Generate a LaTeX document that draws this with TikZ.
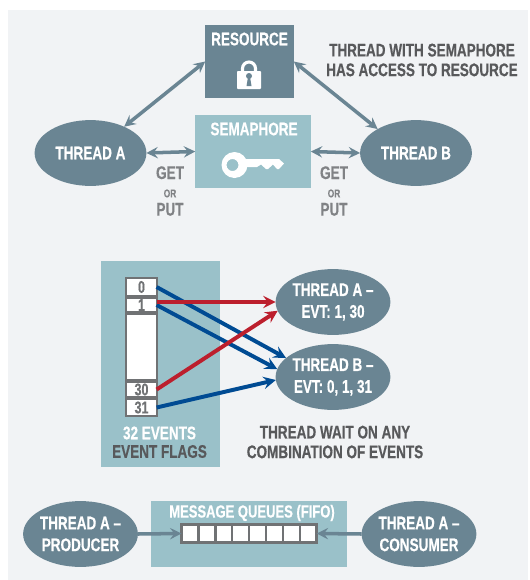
\documentclass[tikz,border=0pt]{standalone}
\usepackage{fontspec}
\setmainfont[FakeStretch=0.74,BoldFeatures={FakeBold=0.5}]{Liberation Sans}
\usetikzlibrary{shapes.geometric}
\definecolor{panelgray}{HTML}{F1F3F5}
\definecolor{threadslate}{HTML}{6A8593}
\definecolor{flagteal}{HTML}{9AC1C9}
\definecolor{labelgray}{HTML}{58595B}
\definecolor{getgray}{HTML}{808285}
\definecolor{cellgray}{HTML}{707274}
\definecolor{flagblue}{HTML}{004B93}
\definecolor{flagred}{HTML}{BC1F2D}
\tikzset{
	>=stealth,
	thread/.style={ellipse,fill=threadslate,text=white,font=\bfseries\fontsize{13}{15.5}\selectfont,align=center,inner sep=0pt,outer sep=0pt,minimum width=79.5pt,minimum height=46.8pt},
	tealbox/.style={fill=flagteal,inner sep=0pt,outer sep=0pt},
	boxtext/.style={text=white,font=\bfseries\fontsize{13}{14}\selectfont,align=center},
	note/.style={text=labelgray,font=\bfseries\fontsize{13}{14}\selectfont,align=center},
	getput/.style={text=getgray,font=\bfseries\fontsize{13}{15}\selectfont,align=center},
	flagcell/.style={draw=cellgray,line width=1.5pt,fill=white,text=cellgray,font=\bfseries\fontsize{12}{14}\selectfont,inner sep=0pt,outer sep=0pt,minimum width=21.5pt},
	queuecell/.style={draw=cellgray,line width=1.7pt,fill=white,inner sep=0pt,outer sep=0pt,minimum width=12pt,minimum height=13pt},
	slatearrow/.style={draw=threadslate,line width=2.5pt},
	bluearrow/.style={draw=flagblue,line width=2.8pt,->},
	redarrow/.style={draw=flagred,line width=2.8pt,->}
}
\begin{document}
\begin{tikzpicture}[x=0.025cm,y=-0.025cm]
	\useasboundingbox (0,0) rectangle (529,580);
	\fill[panelgray] (8,10) rectangle (528,580);
	\node[fill=threadslate,inner sep=0pt,outer sep=0pt,minimum width=63pt,minimum height=51.7pt] (resource) at (249.5,61.5) {};
	\node[tealbox,minimum width=82.2pt,minimum height=51.7pt] (semaphore) at (253,151.5) {};
	\node[thread] (threadA) at (90.5,153) {THREAD A};
	\node[thread] (threadB) at (416,153) {THREAD B};
	\node[boxtext] (resourcetext) at (249.5,39) {RESOURCE};
	\node[boxtext] (semaphoretext) at (254,129) {SEMAPHORE};
	\node[note] (accesstext) at (422,60) {THREAD WITH SEMAPHORE\\HAS ACCESS TO RESOURCE};
	\node[getput] (getA) at (170,191) {GET\\[-2pt]{\fontsize{8}{9}\selectfont OR}\\[-2pt]PUT};
	\node[getput] (getB) at (334,191) {GET\\[-2pt]{\fontsize{8}{9}\selectfont OR}\\[-2pt]PUT};
	\draw[slatearrow,<->] (threadA.38) -- (resource.west);
	\draw[slatearrow,<->] (threadB.148) -- (resource.east);
	\draw[slatearrow,<->] (threadA.east) -- (semaphore.west);
	\draw[slatearrow,<->] (threadB.west) -- (semaphore.east);
	\fill[white,rounded corners=0.6pt] (237,71) rectangle (261,89);
	\draw[white,line width=2.2pt] (242.5,72) -- (242.5,68.5) arc (180:360:6.5) -- (255.5,72);
	\fill[threadslate] (249,76) circle (3);
	\fill[threadslate] (248,77) -- (250,77) -- (251.5,86) -- (246.5,86) -- cycle;
	\fill[white,even odd rule] (234.5,165) circle (13) (232.5,165) circle (6);
	\fill[white] (244,159) -- (279,159) -- (284,163.5) -- (279,169) -- (277,169) -- (273,164.5) -- (268,169) -- (266,169) -- (261,164.5) -- (257,167) -- (244,167) -- cycle;
	\node[tealbox,minimum width=84.3pt,minimum height=146pt] (flagpanel) at (160.5,364) {};
	\node[flagcell,minimum height=12.8pt] (flag0) at (141.5,287) {0};
	\node[flagcell,minimum height=10pt] (flag1) at (141.5,305) {1};
	\node[flagcell,minimum height=47pt] (flagblank) at (141.5,347) {};
	\node[flagcell,minimum height=10.6pt] (flag30) at (141.5,389.5) {30};
	\node[flagcell,minimum height=12.1pt] (flag31) at (141.5,407.5) {31};
	\node[boxtext] (eventstext) at (159.5,433) {32 EVENTS};
	\node[note] (flagstext) at (159.5,451.5) {EVENT FLAGS};
	\node[thread] (evtA) at (333,302) {THREAD A --\\EVT: 1, 30};
	\node[thread] (evtB) at (333,377) {THREAD B --\\EVT: 0, 1, 31};
	\node[note] (waittext) at (335,442) {THREAD WAIT ON ANY\\COMBINATION OF EVENTS};
	\draw[bluearrow] (flag0.east) -- (evtB.158);
	\draw[bluearrow] (flag1.east) -- (evtB.172);
	\draw[bluearrow] (flag31.east) -- (evtB.183);
	\draw[redarrow] (flag1.east |- evtA.west) -- (evtA.west);
	\draw[redarrow] (flag30.east) -- (evtA.189);
	\node[tealbox,minimum width=139pt,minimum height=46.8pt] (queuepanel) at (249,534) {};
	\node[thread] (producer) at (80.5,534) {THREAD A --\\PRODUCER};
	\node[thread] (consumer) at (419,534) {THREAD A --\\CONSUMER};
	\node[boxtext,font=\bfseries\fontsize{12.5}{14}\selectfont] (queuetext) at (252,513) {MESSAGE QUEUES (FIFO)};
	\foreach \i in {1,...,8}
		\node[queuecell] (queue\i) at (181.5+16.9*\i-8.45,533.5) {};
	\draw[slatearrow,->] (producer.east) -- (queue1.west);
	\draw[slatearrow,->] (consumer.west) -- (queue8.east);
\end{tikzpicture}
\end{document}
